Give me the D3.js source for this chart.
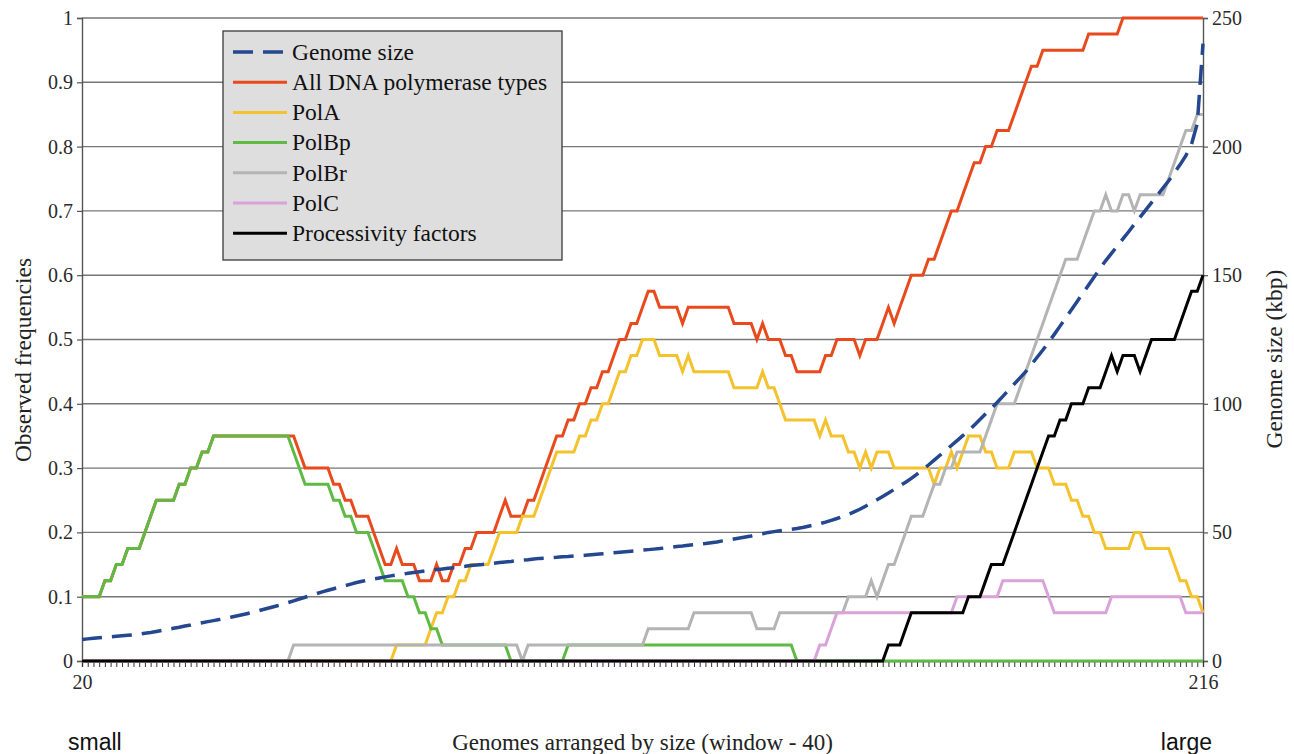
<!DOCTYPE html>
<html>
<head>
<meta charset="utf-8">
<script src="https://cdn.jsdelivr.net/npm/d3@7/dist/d3.min.js"></script>
<style>
  body { margin: 0; background: #fff; }
  svg { display: block; }
</style>
</head>
<body>
<div id="chart"></div>
<script>
// windows 20..216 along the genome list ordered by size, 40 genomes per window
var firstWindow = 20;
var windowSize = 40;

// number of genomes in each window (out of 40) that carry the feature
var allPolCounts = [
  4,4,4,4,5,5,6,6,7,7,
  7,8,9,10,10,10,10,11,11,12,
  12,13,13,14,14,14,14,14,14,14,
  14,14,14,14,14,14,14,14,13,12,
  12,12,12,12,11,11,10,10,9,9,
  9,8,7,6,6,7,6,6,6,5,
  5,5,6,5,5,6,6,7,7,8,
  8,8,8,9,10,9,9,9,10,10,
  11,12,13,14,14,15,15,16,16,17,
  17,18,18,19,20,20,21,21,22,23,
  23,22,22,22,22,21,22,22,22,22,
  22,22,22,22,21,21,21,21,20,21,
  20,20,20,19,19,18,18,18,18,18,
  19,19,20,20,20,20,19,20,20,20,
  21,22,21,22,23,24,24,24,25,25,
  26,27,28,28,29,30,31,31,32,32,
  33,33,33,34,35,36,37,37,38,38,
  38,38,38,38,38,38,39,39,39,39,
  39,39,40,40,40,40,40,40,40,40,
  40,40,40,40,40,40,40
];

var polACounts = [
  0,0,0,0,0,0,0,0,0,0,
  0,0,0,0,0,0,0,0,0,0,
  0,0,0,0,0,0,0,0,0,0,
  0,0,0,0,0,0,0,0,0,0,
  0,0,0,0,0,0,0,0,0,0,
  0,0,0,0,0,1,1,1,1,1,
  1,2,3,3,4,4,5,5,6,6,
  6,6,7,8,8,8,8,9,9,9,
  10,11,12,13,13,13,13,14,14,15,
  15,16,16,17,18,18,19,19,20,20,
  20,19,19,19,19,18,19,18,18,18,
  18,18,18,18,17,17,17,17,17,18,
  17,17,16,15,15,15,15,15,15,14,
  15,14,14,14,13,13,12,13,12,13,
  13,13,12,12,12,12,12,12,12,11,
  12,12,13,12,13,14,14,14,13,13,
  12,12,12,13,13,13,13,12,12,12,
  11,11,11,10,10,9,9,8,8,7,
  7,7,7,7,8,8,7,7,7,7,
  7,6,5,5,4,4,3
];

var polBpCounts = [
  4,4,4,4,5,5,6,6,7,7,
  7,8,9,10,10,10,10,11,11,12,
  12,13,13,14,14,14,14,14,14,14,
  14,14,14,14,14,14,14,13,12,11,
  11,11,11,11,10,10,9,9,8,8,
  8,7,6,5,5,5,5,4,4,3,
  3,2,2,1,1,1,1,1,1,1,
  1,1,1,1,1,0,0,0,0,0,
  0,0,0,0,0,1,1,1,1,1,
  1,1,1,1,1,1,1,1,1,1,
  1,1,1,1,1,1,1,1,1,1,
  1,1,1,1,1,1,1,1,1,1,
  1,1,1,1,1,0,0,0,0,0,
  0,0,0,0,0,0,0,0,0,0,
  0,0,0,0,0,0,0,0,0,0,
  0,0,0,0,0,0,0,0,0,0,
  0,0,0,0,0,0,0,0,0,0,
  0,0,0,0,0,0,0,0,0,0,
  0,0,0,0,0,0,0,0,0,0,
  0,0,0,0,0,0,0
];

var polBrCounts = [
  0,0,0,0,0,0,0,0,0,0,
  0,0,0,0,0,0,0,0,0,0,
  0,0,0,0,0,0,0,0,0,0,
  0,0,0,0,0,0,0,1,1,1,
  1,1,1,1,1,1,1,1,1,1,
  1,1,1,1,1,1,1,1,1,1,
  1,1,1,1,1,1,1,1,1,1,
  1,1,1,1,1,1,1,0,1,1,
  1,1,1,1,1,1,1,1,1,1,
  1,1,1,1,1,1,1,1,1,2,
  2,2,2,2,2,2,2,3,3,3,
  3,3,3,3,3,3,3,3,2,2,
  2,2,3,3,3,3,3,3,3,3,
  3,3,3,3,4,4,4,4,5,4,
  5,6,6,7,8,9,9,9,10,11,
  11,12,12,13,13,13,13,13,14,15,
  16,16,16,16,17,18,19,20,21,22,
  23,24,25,25,25,26,27,28,28,29,
  28,28,29,29,28,29,29,29,29,29,
  30,31,32,33,33,34,34
];

var polCCounts = [
  0,0,0,0,0,0,0,0,0,0,
  0,0,0,0,0,0,0,0,0,0,
  0,0,0,0,0,0,0,0,0,0,
  0,0,0,0,0,0,0,0,0,0,
  0,0,0,0,0,0,0,0,0,0,
  0,0,0,0,0,0,0,0,0,0,
  0,0,0,0,0,0,0,0,0,0,
  0,0,0,0,0,0,0,0,0,0,
  0,0,0,0,0,0,0,0,0,0,
  0,0,0,0,0,0,0,0,0,0,
  0,0,0,0,0,0,0,0,0,0,
  0,0,0,0,0,0,0,0,0,0,
  0,0,0,0,0,0,0,0,0,1,
  1,2,3,3,3,3,3,3,3,3,
  3,3,3,3,3,3,3,3,3,3,
  3,3,3,4,4,4,4,4,4,4,
  4,5,5,5,5,5,5,5,5,4,
  3,3,3,3,3,3,3,3,3,3,
  4,4,4,4,4,4,4,4,4,4,
  4,4,4,3,3,3,3
];

var processivityCounts = [
  0,0,0,0,0,0,0,0,0,0,
  0,0,0,0,0,0,0,0,0,0,
  0,0,0,0,0,0,0,0,0,0,
  0,0,0,0,0,0,0,0,0,0,
  0,0,0,0,0,0,0,0,0,0,
  0,0,0,0,0,0,0,0,0,0,
  0,0,0,0,0,0,0,0,0,0,
  0,0,0,0,0,0,0,0,0,0,
  0,0,0,0,0,0,0,0,0,0,
  0,0,0,0,0,0,0,0,0,0,
  0,0,0,0,0,0,0,0,0,0,
  0,0,0,0,0,0,0,0,0,0,
  0,0,0,0,0,0,0,0,0,0,
  0,0,0,0,0,0,0,0,0,0,
  0,1,1,1,2,3,3,3,3,3,
  3,3,3,3,3,4,4,4,5,6,
  6,6,7,8,9,10,11,12,13,14,
  14,15,15,16,16,16,17,17,17,18,
  19,18,19,19,19,18,19,20,20,20,
  20,20,21,22,23,23,24
];

// mean genome size of each window, kbp (right axis)
var genomeSizeKbp = [
  8.4,8.6,8.8,9.0,9.2,9.4,9.6,9.8,10.0,10.2,
  10.5,10.8,11.1,11.5,11.9,12.3,12.7,13.1,13.6,14.0,
  14.5,14.9,15.3,15.7,16.1,16.5,17.0,17.5,18.0,18.5,
  19.0,19.6,20.2,20.8,21.4,22.0,22.7,23.4,24.1,24.8,
  25.5,26.2,26.9,27.5,28.1,28.7,29.3,29.9,30.5,31.0,
  31.5,31.9,32.3,32.7,33.1,33.4,33.7,34.1,34.4,34.7,
  35.0,35.3,35.6,35.8,36.1,36.3,36.6,36.8,37.1,37.3,
  37.5,37.8,38.0,38.3,38.5,38.7,39.0,39.2,39.4,39.7,
  39.9,40.0,40.2,40.3,40.5,40.6,40.8,40.9,41.1,41.3,
  41.5,41.7,41.9,42.1,42.3,42.5,42.7,42.9,43.1,43.3,
  43.5,43.7,44.0,44.2,44.5,44.7,45.0,45.2,45.5,45.7,
  46.0,46.3,46.7,47.0,47.4,47.8,48.2,48.6,49.1,49.5,
  50.0,50.3,50.6,50.9,51.2,51.5,51.9,52.4,52.9,53.4,
  54.0,54.7,55.4,56.2,57.0,58.0,59.0,60.2,61.4,62.7,
  64.0,65.3,66.7,68.1,69.5,71.0,72.7,74.4,76.2,78.1,
  80.0,81.9,83.8,85.7,87.6,89.5,91.7,93.9,96.1,98.3,
  100.5,102.9,105.3,107.7,110.1,112.5,115.3,118.1,120.9,123.9,
  127.0,130.2,133.4,136.6,139.8,143.0,146.2,149.4,152.6,155.7,
  158.5,161.3,164.1,166.9,169.8,172.6,175.4,178.2,181.0,183.9,
  186.7,189.8,193.0,196.5,201.0,209.0,240.0
];

var freqTicks = [0, 0.1, 0.2, 0.3, 0.4, 0.5, 0.6, 0.7, 0.8, 0.9, 1];
var kbpTicks = [0, 50, 100, 150, 200, 250];
var xTickLabels = [20, 216];
var xEndLabels = ["small", "large"];

var seriesNames = ["Genome size", "All DNA polymerase types", "PolA", "PolBp", "PolBr", "PolC", "Processivity factors"];

var colors = {
    "Genome size": "#24478f",
    "All DNA polymerase types": "#e8491d",
    "PolA": "#f3c22c",
    "PolBp": "#5fba44",
    "PolBr": "#b4b4b4",
    "PolC": "#d9a2d8",
    "Processivity factors": "#000000"
};

window.app = {
    init: function () {
        var W = 1294, H = 754;
        var m = {top: 18, right: 91, bottom: 93, left: 82};
        var serif = "'Liberation Serif', 'Times New Roman', serif";

        var windows = allPolCounts.map(function (d, i) { return firstWindow + i; });

        // counts are turned into frequencies within the window
        var freqSeries = [
            {name: "All DNA polymerase types", counts: allPolCounts},
            {name: "PolA", counts: polACounts},
            {name: "PolBp", counts: polBpCounts},
            {name: "PolBr", counts: polBrCounts},
            {name: "PolC", counts: polCCounts},
            {name: "Processivity factors", counts: processivityCounts}
        ];

        var x = d3.scaleLinear()
                  .domain([windows[0], windows[windows.length - 1]])
                  .range([m.left, W - m.right]);
        var y = d3.scaleLinear().domain([0, 1]).range([H - m.bottom, m.top]);
        var y2 = d3.scaleLinear().domain([0, 250]).range([H - m.bottom, m.top]);

        var svg = d3.select("#chart").append("svg")
                    .attr("width", W)
                    .attr("height", H);

        svg.append("rect").attr("width", W).attr("height", H).attr("fill", "#fff");

        // horizontal gridlines
        svg.append("g").selectAll("line")
            .data(freqTicks.filter(function (d) { return d > 0; }))
            .enter().append("line")
                .attr("x1", x.range()[0])
                .attr("x2", x.range()[1])
                .attr("y1", function (d) { return y(d); })
                .attr("y2", function (d) { return y(d); })
                .attr("stroke", "#777")
                .attr("stroke-width", 1.4);

        var styleAxis = function (g) {
            g.select(".domain").attr("stroke", "#555").attr("stroke-width", 1.4);
            g.selectAll(".tick line").attr("stroke", "#555").attr("stroke-width", 1.2);
            g.selectAll("text")
                .style("font-family", serif)
                .style("font-size", "20px")
                .attr("fill", "#2a2a2a");
        };

        svg.append("g")
            .attr("transform", "translate(" + m.left + ",0)")
            .call(d3.axisLeft(y).tickValues(freqTicks).tickSize(5).tickPadding(4)
                    .tickFormat(function (d) { return (d === 0 || d === 1) ? d : d3.format(".1f")(d); }))
            .call(styleAxis);

        svg.append("g")
            .attr("transform", "translate(" + (W - m.right) + ",0)")
            .call(d3.axisRight(y2).tickValues(kbpTicks).tickSize(5).tickPadding(4))
            .call(styleAxis);

        svg.append("g")
            .attr("transform", "translate(0," + (H - m.bottom) + ")")
            .call(d3.axisBottom(x).tickValues(windows).tickSize(6).tickPadding(8)
                    .tickFormat(function (d) { return xTickLabels.indexOf(d) >= 0 ? d : ""; }))
            .call(styleAxis)
            .call(function (g) {
                g.selectAll(".tick line").attr("stroke", "#333").attr("stroke-width", 1);
            });

        var freqLine = d3.line()
            .x(function (d, i) { return x(windows[i]); })
            .y(function (d) { return y(d / windowSize); });

        svg.append("g").selectAll("path")
            .data(freqSeries)
            .enter().append("path")
                .attr("d", function (s) { return freqLine(s.counts); })
                .attr("fill", "none")
                .attr("stroke", function (s) { return colors[s.name]; })
                .attr("stroke-width", 3)
                .attr("stroke-linejoin", "miter");

        var sizeLine = d3.line()
            .x(function (d, i) { return x(windows[i]); })
            .y(function (d) { return y2(d); });

        svg.append("path")
            .attr("d", sizeLine(genomeSizeKbp))
            .attr("fill", "none")
            .attr("stroke", colors["Genome size"])
            .attr("stroke-width", 3.5)
            .attr("stroke-dasharray", "20,10");

        // legend
        var lg = svg.append("g").attr("transform", "translate(223,31)");
        lg.append("rect")
            .attr("width", 339).attr("height", 229)
            .attr("fill", "#dedede")
            .attr("stroke", "#3a3a3a")
            .attr("stroke-width", 1.3);

        var rows = lg.selectAll(".row")
            .data(seriesNames)
            .enter().append("g")
                .attr("transform", function (d, i) { return "translate(0," + (21 + i * 30.2) + ")"; });

        rows.append("line")
            .attr("x1", 10).attr("x2", 64)
            .attr("stroke", function (d) { return colors[d]; })
            .attr("stroke-width", function (d, i) { return i === 0 ? 3.5 : 3; })
            .attr("stroke-dasharray", function (d, i) { return i === 0 ? "20,10" : null; });

        rows.append("text")
            .attr("x", 69)
            .attr("dy", "0.33em")
            .style("font-family", serif)
            .style("font-size", "23.5px")
            .attr("fill", "#111")
            .text(function (d) { return d; });

        // axis titles
        svg.append("text")
            .attr("transform", "translate(31,360) rotate(-90)")
            .attr("text-anchor", "middle")
            .style("font-family", serif)
            .style("font-size", "23.5px")
            .attr("fill", "#222")
            .text("Observed frequencies");

        svg.append("text")
            .attr("transform", "translate(1282,359) rotate(-90)")
            .attr("text-anchor", "middle")
            .style("font-family", serif)
            .style("font-size", "23.5px")
            .attr("fill", "#222")
            .text("Genome size (kbp)");

        svg.append("text")
            .attr("x", (x.range()[0] + x.range()[1]) / 2)
            .attr("y", 750)
            .attr("text-anchor", "middle")
            .style("font-family", serif)
            .style("font-size", "23px")
            .attr("fill", "#222")
            .text("Genomes arranged by size (window - 40)");

        svg.selectAll(".endlabel")
            .data(xEndLabels)
            .enter().append("text")
                .attr("x", function (d, i) { return i === 0 ? 68 : 1212; })
                .attr("y", 750)
                .attr("text-anchor", function (d, i) { return i === 0 ? "start" : "end"; })
                .style("font-family", "'Liberation Sans', Arial, sans-serif")
                .style("font-size", "23px")
                .attr("fill", "#111")
                .text(function (d) { return d; });
    }
};

window.app.init();
</script>
</body>
</html>
